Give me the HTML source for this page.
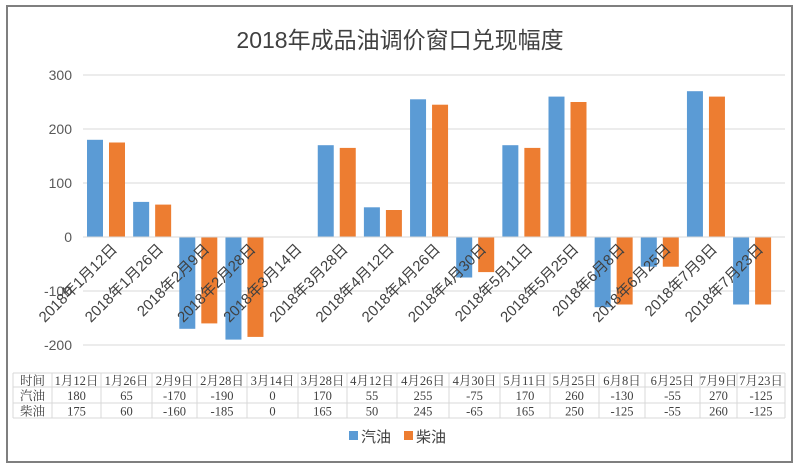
<!DOCTYPE html>
<html><head><meta charset="utf-8"><style>
body{margin:0;background:#fff;}
svg{display:block;font-family:"Liberation Sans","Noto Sans CJK SC",sans-serif;}
</style></head><body>
<svg width="800" height="469" viewBox="0 0 800 469" xmlns="http://www.w3.org/2000/svg">
<rect x="7" y="6" width="785" height="456" fill="#fff" stroke="#7f7f7f" stroke-width="2"/>
<text x="400" y="48" text-anchor="middle" font-size="23" fill="#404040">2018年成品油调价窗口兑现幅度</text>
<g stroke="#d9d9d9" stroke-width="1">
<line x1="83" x2="785" y1="75" y2="75"/><line x1="83" x2="785" y1="129" y2="129"/><line x1="83" x2="785" y1="183" y2="183"/>
<line x1="83" x2="785" y1="291" y2="291"/><line x1="83" x2="785" y1="345" y2="345"/>
</g>
<g font-size="14" fill="#595959" text-anchor="end">
<text x="72" y="80">300</text><text x="72" y="134">200</text><text x="72" y="188">100</text><text x="72" y="242">0</text><text x="72" y="296">-100</text><text x="72" y="350">-200</text>
</g>
<g fill="#5b9bd5">
<rect x="87" y="139.8" width="16" height="97.2"/>
<rect x="133.15" y="201.9" width="16" height="35.1"/>
<rect x="179.3" y="237" width="16" height="91.8"/>
<rect x="225.45" y="237" width="16" height="102.6"/>
<rect x="317.75" y="145.2" width="16" height="91.8"/>
<rect x="363.9" y="207.3" width="16" height="29.7"/>
<rect x="410.05" y="99.3" width="16" height="137.7"/>
<rect x="456.2" y="237" width="16" height="40.5"/>
<rect x="502.35" y="145.2" width="16" height="91.8"/>
<rect x="548.5" y="96.6" width="16" height="140.4"/>
<rect x="594.65" y="237" width="16" height="70.2"/>
<rect x="640.8" y="237" width="16" height="29.7"/>
<rect x="686.95" y="91.2" width="16" height="145.8"/>
<rect x="733.1" y="237" width="16" height="67.5"/>
</g>
<g fill="#ed7d31">
<rect x="109" y="142.5" width="16" height="94.5"/>
<rect x="155.15" y="204.6" width="16" height="32.4"/>
<rect x="201.3" y="237" width="16" height="86.4"/>
<rect x="247.45" y="237" width="16" height="99.9"/>
<rect x="339.75" y="147.9" width="16" height="89.1"/>
<rect x="385.9" y="210" width="16" height="27"/>
<rect x="432.05" y="104.7" width="16" height="132.3"/>
<rect x="478.2" y="237" width="16" height="35.1"/>
<rect x="524.35" y="147.9" width="16" height="89.1"/>
<rect x="570.5" y="102" width="16" height="135"/>
<rect x="616.65" y="237" width="16" height="67.5"/>
<rect x="662.8" y="237" width="16" height="29.7"/>
<rect x="708.95" y="96.6" width="16" height="140.4"/>
<rect x="755.1" y="237" width="16" height="67.5"/>
</g>
<line x1="83" x2="785" y1="237" y2="237" stroke="#d9d9d9"/>
<g font-size="15" fill="#404040" text-anchor="end">
<text x="118" y="250" transform="rotate(-45 118 250)">2018年1月12日</text>
<text x="164.15" y="250" transform="rotate(-45 164.15 250)">2018年1月26日</text>
<text x="210.3" y="250" transform="rotate(-45 210.3 250)">2018年2月9日</text>
<text x="256.45" y="250" transform="rotate(-45 256.45 250)">2018年2月28日</text>
<text x="302.6" y="250" transform="rotate(-45 302.6 250)">2018年3月14日</text>
<text x="348.75" y="250" transform="rotate(-45 348.75 250)">2018年3月28日</text>
<text x="394.9" y="250" transform="rotate(-45 394.9 250)">2018年4月12日</text>
<text x="441.05" y="250" transform="rotate(-45 441.05 250)">2018年4月26日</text>
<text x="487.2" y="250" transform="rotate(-45 487.2 250)">2018年4月30日</text>
<text x="533.35" y="250" transform="rotate(-45 533.35 250)">2018年5月11日</text>
<text x="579.5" y="250" transform="rotate(-45 579.5 250)">2018年5月25日</text>
<text x="625.65" y="250" transform="rotate(-45 625.65 250)">2018年6月8日</text>
<text x="671.8" y="250" transform="rotate(-45 671.8 250)">2018年6月25日</text>
<text x="717.95" y="250" transform="rotate(-45 717.95 250)">2018年7月9日</text>
<text x="764.1" y="250" transform="rotate(-45 764.1 250)">2018年7月23日</text>
</g>
<g stroke="#d9d9d9">
<line x1="13" x2="785" y1="373" y2="373"/><line x1="13" x2="785" y1="387" y2="387"/><line x1="13" x2="785" y1="403" y2="403"/><line x1="13" x2="785" y1="418" y2="418"/>
<line x1="13" x2="13" y1="373" y2="418"/><line x1="52" x2="52" y1="373" y2="418"/><line x1="101" x2="101" y1="373" y2="418"/><line x1="152" x2="152" y1="373" y2="418"/><line x1="197" x2="197" y1="373" y2="418"/><line x1="247" x2="247" y1="373" y2="418"/><line x1="298" x2="298" y1="373" y2="418"/><line x1="347" x2="347" y1="373" y2="418"/><line x1="397" x2="397" y1="373" y2="418"/><line x1="449" x2="449" y1="373" y2="418"/><line x1="500" x2="500" y1="373" y2="418"/><line x1="550" x2="550" y1="373" y2="418"/><line x1="599" x2="599" y1="373" y2="418"/><line x1="645" x2="645" y1="373" y2="418"/><line x1="700" x2="700" y1="373" y2="418"/><line x1="737" x2="737" y1="373" y2="418"/><line x1="785" x2="785" y1="373" y2="418"/>
</g>
<g font-size="12.5" fill="#404040" text-anchor="middle" font-family="Liberation Serif,Noto Serif CJK SC,serif">
<text x="32.5" y="385">时间</text><text x="76.5" y="385">1月12日</text><text x="126.5" y="385">1月26日</text><text x="174.5" y="385">2月9日</text><text x="222" y="385">2月28日</text><text x="272.5" y="385">3月14日</text><text x="322.5" y="385">3月28日</text><text x="372" y="385">4月12日</text><text x="423" y="385">4月26日</text><text x="474.5" y="385">4月30日</text><text x="525" y="385">5月11日</text><text x="574.5" y="385">5月25日</text><text x="622" y="385">6月8日</text><text x="672.5" y="385">6月25日</text><text x="718.5" y="385">7月9日</text><text x="761" y="385">7月23日</text>
<text x="32.5" y="400">汽油</text><text x="76.5" y="400">180</text><text x="126.5" y="400">65</text><text x="174.5" y="400">-170</text><text x="222" y="400">-190</text><text x="272.5" y="400">0</text><text x="322.5" y="400">170</text><text x="372" y="400">55</text><text x="423" y="400">255</text><text x="474.5" y="400">-75</text><text x="525" y="400">170</text><text x="574.5" y="400">260</text><text x="622" y="400">-130</text><text x="672.5" y="400">-55</text><text x="718.5" y="400">270</text><text x="761" y="400">-125</text>
<text x="32.5" y="415.5">柴油</text><text x="76.5" y="415.5">175</text><text x="126.5" y="415.5">60</text><text x="174.5" y="415.5">-160</text><text x="222" y="415.5">-185</text><text x="272.5" y="415.5">0</text><text x="322.5" y="415.5">165</text><text x="372" y="415.5">50</text><text x="423" y="415.5">245</text><text x="474.5" y="415.5">-65</text><text x="525" y="415.5">165</text><text x="574.5" y="415.5">250</text><text x="622" y="415.5">-125</text><text x="672.5" y="415.5">-55</text><text x="718.5" y="415.5">260</text><text x="761" y="415.5">-125</text>
</g>
<rect x="349" y="431" width="9" height="9" fill="#5b9bd5"/>
<text x="361" y="442" font-size="15" fill="#404040">汽油</text>
<rect x="404" y="431" width="9" height="9" fill="#ed7d31"/>
<text x="416" y="442" font-size="15" fill="#404040">柴油</text>
</svg>
</body></html>
